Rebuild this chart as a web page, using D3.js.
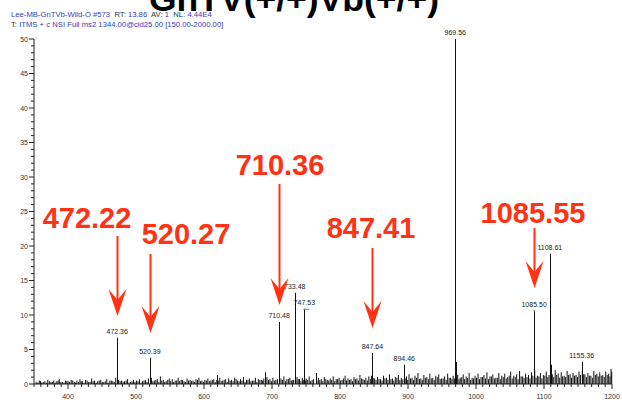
<!DOCTYPE html>
<html>
<head>
<meta charset="utf-8">
<script src="https://cdn.jsdelivr.net/npm/d3@7"></script>
<style>
  html, body { margin: 0; padding: 0; background: #fff; }
  svg { display: block; font-family: "Liberation Sans", Arial, sans-serif; }
</style>
</head>
<body>
<svg id="chart" width="622" height="404"></svg>
<script>
// MS2 spectrum of the 1344.00 precursor, relative abundance vs m/z

// Main fragment ions
const peakMz    = [472.36, 520.39, 619.8, 689.7, 710.48, 733.48, 747.53, 764.7, 847.64, 894.46, 969.56, 970.55, 1085.50, 1108.61, 1109.60, 1155.36];
const peakInt   = [6.7,    3.8,    1.3,   1.7,   9.0,    13.2,   10.9,   1.6,   4.5,    2.8,    50.0,   3.2,    10.6,    18.9,    2.8,     3.2];
const peakLabel = ["472.36", "520.39", "", "", "710.48", "733.48", "747.53", "", "847.64", "894.46", "969.56", "", "1085.50", "1108.61", "", "1155.36"];

// Baseline noise sticks
const noiseMz = [
  353.2, 357.8, 361.4, 366.0, 370.3, 374.9, 379.1, 383.6, 387.2, 391.8, 396.5, 400.1, 404.7, 409.3, 413.0, 417.6,
  421.2, 425.9, 430.4, 434.8, 439.1, 443.7, 448.2, 452.6, 457.0, 461.5, 465.9, 470.2, 474.4, 478.8, 483.1, 487.6,
  491.9, 496.3, 500.8, 505.2, 509.6, 514.1, 518.3, 522.7, 527.0, 531.4, 535.8, 540.2, 544.5, 548.9, 553.3, 557.6,
  562.0, 566.4, 570.7, 575.1, 579.5, 583.9, 588.2, 592.6, 597.0, 601.3, 605.7, 610.1, 614.4, 618.8, 623.2, 627.5,
  631.9, 636.3, 640.6, 645.0, 649.4, 653.7, 658.1, 662.5, 666.8, 671.2, 675.6, 679.9, 684.3, 688.0, 692.6, 697.0,
  701.3, 705.7, 713.2, 717.5, 721.9, 726.3, 730.6, 736.8, 740.4, 744.7, 750.3, 754.7, 759.0, 768.2, 772.5, 776.9,
  781.3, 785.6, 790.0, 794.4, 798.7, 803.1, 807.5, 811.8, 816.2, 820.6, 824.9, 829.3, 833.7, 838.0, 842.4, 846.2,
  850.9, 855.2, 859.6, 864.0, 868.3, 872.7, 877.1, 881.4, 885.8, 890.2, 897.8, 901.5, 905.9, 910.2, 914.6, 919.0,
  923.3, 927.7, 932.1, 936.4, 940.8, 945.2, 949.5, 953.9, 958.3, 962.6, 966.4, 973.1, 976.8, 981.2, 985.5, 989.9,
  994.3, 998.6, 1003.0, 1007.4, 1011.7, 1016.1, 1020.5, 1024.8, 1029.2, 1033.6, 1037.9, 1042.3, 1046.7, 1051.0, 1055.4, 1059.8,
  1064.1, 1068.5, 1072.9, 1077.2, 1081.6, 1086.4, 1090.3, 1094.7, 1099.1, 1103.4, 1112.2, 1116.5, 1120.9, 1125.3, 1129.6, 1134.0,
  1138.4, 1142.7, 1147.1, 1151.5, 1156.4, 1160.2, 1164.6, 1168.9, 1173.3, 1177.7, 1182.0, 1186.4, 1190.8, 1195.1, 1198.6
];
const noiseInt = [
  0.3, 0.5, 0.2, 0.4, 0.6, 0.3, 0.5, 0.4, 0.7, 0.3, 0.5, 0.4, 0.6, 0.3, 0.5, 0.7,
  0.4, 0.6, 0.3, 0.8, 0.5, 0.4, 0.6, 0.3, 0.7, 0.5, 0.4, 0.9, 0.6, 0.5, 0.4, 0.7,
  0.3, 0.6, 0.5, 0.7, 0.4, 0.6, 0.8, 0.9, 0.5, 0.7, 1.1, 0.6, 0.4, 0.8, 0.7, 0.5,
  0.9, 0.6, 0.4, 0.8, 0.6, 0.5, 0.7, 0.9, 0.5, 0.6, 0.8, 0.5, 0.7, 0.6, 0.9, 0.5,
  0.7, 0.8, 0.6, 0.9, 0.5, 0.7, 1.0, 0.6, 0.8, 0.5, 0.9, 0.7, 0.6, 0.8, 1.0, 0.7,
  0.9, 0.6, 0.8, 1.1, 0.7, 0.9, 0.6, 1.0, 0.7, 0.9, 0.8, 1.1, 0.6, 0.9, 0.7, 1.0,
  0.6, 0.8, 1.1, 0.7, 0.9, 0.6, 1.2, 0.8, 0.7, 1.0, 0.8, 1.3, 0.7, 0.9, 1.1, 1.2,
  0.8, 1.0, 0.7, 1.2, 0.9, 1.4, 0.8, 1.0, 1.3, 0.9, 1.1, 1.4, 0.9, 1.2, 1.6, 0.8,
  1.3, 1.0, 1.5, 0.9, 1.2, 1.4, 0.8, 1.1, 1.5, 0.9, 1.2, 1.3, 0.9, 1.4, 1.1, 1.6,
  0.9, 1.2, 1.5, 1.0, 1.3, 1.7, 1.1, 1.4, 0.9, 1.6, 1.2, 1.5, 1.0, 1.8, 1.2, 1.4,
  1.9, 1.1, 1.5, 1.3, 1.7, 2.0, 1.2, 1.6, 1.3, 1.8, 1.4, 2.0, 1.5, 1.7, 1.2, 1.9,
  1.4, 1.6, 1.3, 1.8, 1.9, 1.4, 1.6, 1.2, 1.9, 1.5, 1.7, 1.3, 1.8, 1.5, 2.2
];

// Lower-level baseline noise between the sticks above: [m/z, intensity]
const lowNoise = [
  [355.5,0.2],[359.6,0.4],[363.7,0.3],[368.2,0.2],[372.6,0.4],[377.0,0.3],[381.4,0.2],[385.4,0.5],[389.5,0.3],[394.1,0.2],
  [398.3,0.4],[402.4,0.3],[407.0,0.5],[411.1,0.2],[415.3,0.3],[419.4,0.4],[423.5,0.2],[428.1,0.5],[432.6,0.3],[437.0,0.4],
  [441.4,0.2],[445.9,0.5],[450.4,0.3],[454.8,0.4],[459.2,0.2],[463.7,0.5],[468.1,0.3],[476.6,0.4],[481.0,0.3],[485.4,0.5],
  [489.7,0.2],[494.1,0.4],[498.5,0.3],[503.0,0.4],[507.4,0.2],[511.8,0.5],[516.2,0.3],[524.8,0.4],[529.2,0.6],[533.6,0.3],
  [538.0,0.5],[542.3,0.3],[546.7,0.6],[551.1,0.4],[555.4,0.3],[559.8,0.5],[564.2,0.4],[568.5,0.6],[572.9,0.3],[577.3,0.5],
  [581.7,0.4],[586.0,0.3],[590.4,0.6],[594.8,0.4],[599.1,0.3],[603.5,0.5],[607.9,0.4],[612.2,0.6],[616.6,0.3],[621.0,0.5],
  [625.3,0.4],[629.7,0.6],[634.1,0.3],[638.4,0.5],[642.8,0.4],[647.2,0.7],[651.5,0.4],[655.9,0.5],[660.3,0.3],[664.6,0.6],
  [669.0,0.4],[673.4,0.5],[677.7,0.3],[682.1,0.6],[686.2,0.5],[690.8,0.4],[694.8,0.6],[699.1,0.4],[703.5,0.5],[708.0,0.7],
  [711.0,0.4],[715.3,0.6],[719.7,0.4],[724.1,0.7],[728.4,0.5],[732.0,0.6],[735.0,0.5],[738.6,0.7],[742.5,0.4],[746.0,0.6],
  [749.0,0.5],[752.5,0.6],[756.8,0.4],[761.2,0.7],[766.0,0.5],[770.3,0.6],[774.7,0.4],[779.1,0.7],[783.4,0.5],[787.8,0.6],
  [792.2,0.4],[796.5,0.7],[800.9,0.5],[805.3,0.8],[809.6,0.5],[814.0,0.6],[818.4,0.4],[822.7,0.7],[827.1,0.5],[831.5,0.8],
  [835.8,0.6],[840.2,0.5],[844.6,0.7],[848.8,0.9],[853.0,0.6],[857.4,0.7],[861.8,0.5],[866.1,0.8],[870.5,0.6],[874.9,0.7],
  [879.2,0.5],[883.6,0.9],[888.0,0.6],[892.4,0.7],[895.8,0.8],[899.6,0.6],[903.7,0.8],[908.0,0.6],[912.4,0.9],[916.8,0.7],
  [921.1,0.6],[925.5,0.9],[929.9,0.7],[934.2,0.8],[938.6,0.6],[943.0,1.0],[947.3,0.7],[951.7,0.8],[956.1,0.6],[960.4,0.9],
  [964.6,0.7],[968.2,0.8],[971.8,0.9],[975.0,0.7],[979.0,1.0],[983.3,0.7],[987.7,0.9],[992.1,0.6],[996.4,0.8],[1000.8,0.9],
  [1005.2,0.7],[1009.5,1.0],[1013.9,0.8],[1018.3,0.7],[1022.6,1.1],[1027.0,0.8],[1031.4,0.9],[1035.7,0.7],[1040.1,1.0],[1044.5,0.8],
  [1048.8,1.2],[1053.2,0.8],[1057.6,1.0],[1061.9,0.7],[1066.3,1.1],[1070.7,0.9],[1075.0,1.0],[1079.4,0.8],[1083.6,1.2],[1088.3,0.9],
  [1092.5,1.1],[1096.9,0.8],[1101.2,1.2],[1105.6,1.0],[1107.4,1.3],[1110.9,1.1],[1114.3,1.0],[1118.7,1.3],[1123.1,0.9],[1127.4,1.1],
  [1131.8,1.0],[1136.2,1.3],[1140.5,0.9],[1144.9,1.2],[1149.3,1.0],[1153.6,1.3],[1158.3,1.4],[1162.4,1.0],[1166.7,1.2],[1171.1,0.9],
  [1175.5,1.3],[1179.8,1.1],[1184.2,1.2],[1188.6,1.0],[1192.9,1.3],[1197.0,1.1],[1199.6,1.8]
];

// Annotated theoretical masses with arrows
const annoText  = ["472.22", "520.27", "710.36", "847.41", "1085.55"];
const annoMz    = [472.36, 520.39, 710.48, 847.64, 1085.50];

// Axis ticks
const xTickLabels = [400, 500, 600, 700, 800, 900, 1000, 1100, 1200];
const yTickLabels = [0, 5, 10, 15, 20, 25, 30, 35, 40, 45, 50];

const headerLine1 = [["Lee-MB-GnTVb-Wild-O #573", true], ["  RT: ", false], ["13.86", true], ["  AV: ", false], ["1", true], ["  NL: ", false], ["4.44E4", true]];
const headerLine2 = [["T: ", false], ["ITMS + c NSI Full ms2 1344.00@cid25.00 [150.00-2000.00]", true]];
const titleText = "GnTV(+/+)Vb(+/+)";

const svg = d3.select("#chart");
const x = d3.scaleLinear().domain([350, 1200]).range([34, 612]);
const y = d3.scaleLinear().domain([0, 50]).range([384, 39]);

const red = "#ff3314";
const blue = "#3340c0";

// Title, mostly above the top edge
svg.append("text")
  .attr("x", 149).attr("y", 11)
  .attr("font-family", "Liberation Sans")
  .attr("font-size", 35.5).attr("font-weight", 700)
  .attr("fill", "#000")
  .text(titleText);

// Header lines
function header(parts, yy) {
  const t = svg.append("text").attr("x", 11).attr("y", yy).attr("font-size", 7.7);
  parts.forEach(([s, isBlue]) => {
    t.append("tspan").attr("fill", isBlue ? blue : "#333").style("white-space", "pre").text(s);
  });
}
header(headerLine1, 16.5);
header(headerLine2, 26.5);

// Axes
const yAxisG = svg.append("g").attr("transform", "translate(34,0)");
yAxisG.append("line").attr("y1", y(50)).attr("y2", y(0)).attr("stroke", "#222");
yAxisG.selectAll("line.minor").data(d3.range(0, 51, 1)).join("line")
  .attr("class", "minor")
  .attr("x1", d => d % 5 === 0 ? -5 : -3).attr("x2", 0)
  .attr("y1", d => y(d)).attr("y2", d => y(d))
  .attr("stroke", "#222");
yAxisG.selectAll("text").data(yTickLabels).join("text")
  .attr("x", -6).attr("y", d => y(d) + 2.5)
  .attr("text-anchor", "end").attr("font-size", 7).attr("fill", "#333")
  .text(d => d);

const xAxisG = svg.append("g").attr("transform", "translate(0,384)");
xAxisG.append("line").attr("x1", x(350)).attr("x2", x(1200)).attr("stroke", "#222");
xAxisG.selectAll("line.minor").data(d3.range(350, 1201, 10)).join("line")
  .attr("class", "minor")
  .attr("x1", d => x(d)).attr("x2", d => x(d))
  .attr("y1", 0).attr("y2", d => d % 100 === 0 ? 5 : 3)
  .attr("stroke", "#222");
xAxisG.selectAll("text").data(xTickLabels).join("text")
  .attr("x", d => x(d)).attr("y", 14.5)
  .attr("text-anchor", "middle").attr("font-size", 7).attr("fill", "#333")
  .text(d => d);
svg.append("text").attr("x", x(780)).attr("y", 409).attr("text-anchor", "middle")
  .attr("font-size", 8).attr("fill", "#333").text("m/z");

// Noise sticks
const noiseG = svg.append("g").attr("stroke", "#111").attr("stroke-width", 1);
noiseG.selectAll("line.n1").data(d3.range(noiseMz.length)).join("line")
  .attr("class", "n1")
  .attr("x1", i => x(noiseMz[i])).attr("x2", i => x(noiseMz[i]))
  .attr("y1", y(0)).attr("y2", i => y(noiseInt[i]));
noiseG.selectAll("line.n2").data(lowNoise).join("line")
  .attr("class", "n2")
  .attr("x1", d => x(d[0])).attr("x2", d => x(d[0]))
  .attr("y1", y(0)).attr("y2", d => y(d[1]));

// Fragment peaks
svg.append("g").selectAll("line").data(d3.range(peakMz.length)).join("line")
  .attr("x1", i => Math.round(x(peakMz[i])) + 0.5).attr("x2", i => Math.round(x(peakMz[i])) + 0.5)
  .attr("y1", y(0)).attr("y2", i => y(peakInt[i]))
  .attr("stroke", "#111").attr("stroke-width", 1);

svg.append("g").selectAll("text").data(d3.range(peakMz.length).filter(i => peakLabel[i])).join("text")
  .attr("x", i => x(peakMz[i])).attr("y", i => y(peakInt[i]) - 4)
  .attr("text-anchor", "middle").attr("font-size", 7).attr("fill", "#222")
  .text(i => peakLabel[i]);

// Small green markers on two labelled peaks
const markIdx = [peakMz.indexOf(747.53), peakMz.indexOf(1085.50)];
svg.append("line")
  .attr("x1", x(peakMz[markIdx[0]]) - 1).attr("x2", x(peakMz[markIdx[0]]) + 5)
  .attr("y1", y(peakInt[markIdx[0]]) + 0.5).attr("y2", y(peakInt[markIdx[0]]) + 0.5)
  .attr("stroke", "#3cb043").attr("stroke-width", 1);
svg.append("circle")
  .attr("cx", x(peakMz[markIdx[1]])).attr("cy", y(peakInt[markIdx[1]]))
  .attr("r", 0.8).attr("fill", "#3cb043");

// Annotation arrows and masses
const annoLayout = [
  { tx: 87,  ty: 228, top: 236, tip: 316 },
  { tx: 186, ty: 244, top: 254, tip: 333 },
  { tx: 280, ty: 175, top: 184, tip: 305 },
  { tx: 371, ty: 238, top: 248, tip: 328 },
  { tx: 533, ty: 223, top: 228, tip: 288 }
];
annoText.forEach((t, i) => {
  const L = annoLayout[i];
  const ax = Math.round(x(annoMz[i])) + 0.5;
  const g = svg.append("g");
  g.append("text").attr("x", L.tx).attr("y", L.ty)
    .attr("text-anchor", "middle").attr("font-size", 29).attr("font-weight", "bold")
    .attr("fill", red).text(t);
  g.append("line").attr("x1", ax).attr("x2", ax).attr("y1", L.top).attr("y2", L.tip - 12)
    .attr("stroke", red).attr("stroke-width", 2);
  const ht = L.tip - 27;
  g.append("path")
    .attr("d", `M${ax - 9},${ht} L${ax},${ht + 11} L${ax + 9},${ht} L${ax},${L.tip} Z`)
    .attr("fill", red);
});
</script>
</body>
</html>
